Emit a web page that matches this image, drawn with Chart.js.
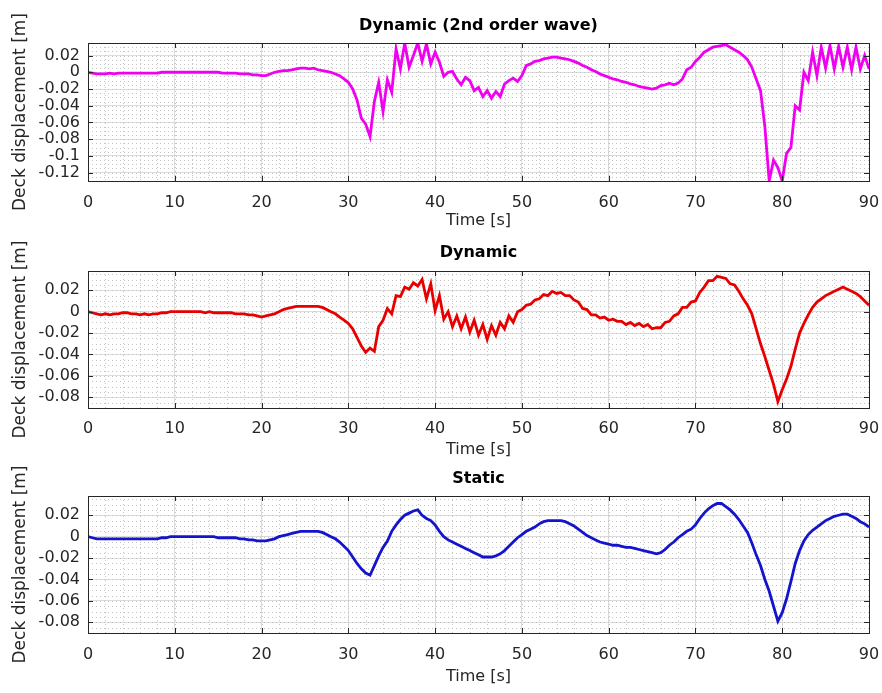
<!DOCTYPE html>
<html>
<head>
<meta charset="utf-8">
<script src="https://cdn.jsdelivr.net/npm/chart.js@4.4.0/dist/chart.umd.min.js"></script>
<style>
  html, body { margin: 0; padding: 0; background: #fff; }
  #quadro { position: relative; width: 882px; height: 693px; overflow: hidden; }
  canvas { position: absolute; left: 0; }
</style>
</head>
<body>
<div id="quadro">
  <canvas id="g1" width="882" height="231" style="top:0px"></canvas>
  <canvas id="g2" width="882" height="231" style="top:231px"></canvas>
  <canvas id="g3" width="882" height="231" style="top:462px"></canvas>
</div>
<script>
// deslocamento do tabuleiro [m], amostrado a cada 0.5 s de 0 a 90 s
const passoTempo = 0.5;

const dinamico2aOrdem = [
  0, -0.001, -0.002, -0.002, -0.002, -0.001, -0.002, -0.001, -0.001, -0.001,
  -0.001, -0.001, -0.001, -0.001, -0.001, -0.001, -0.001, 0, 0, 0,
  0, 0, 0, 0, 0, 0, 0, 0, 0, 0,
  0, -0.001, -0.001, -0.001, -0.001, -0.002, -0.002, -0.002, -0.003, -0.003,
  -0.004, -0.004, -0.002, 0, 0.001, 0.002, 0.002, 0.003, 0.004, 0.005,
  0.005, 0.004, 0.005, 0.003, 0.002, 0.001, 0, -0.002, -0.004, -0.008,
  -0.012, -0.02, -0.033, -0.055, -0.062, -0.077, -0.035, -0.012, -0.047, -0.009,
  -0.024, 0.028, 0.004, 0.035, 0.006, 0.02, 0.035, 0.013, 0.034, 0.01,
  0.024, 0.012, -0.005, 0.0, 0.001, -0.008, -0.015, -0.006, -0.01, -0.022,
  -0.018, -0.029, -0.022, -0.031, -0.023, -0.029, -0.014, -0.01, -0.007, -0.011,
  -0.004, 0.008, 0.01, 0.013, 0.014, 0.016, 0.017, 0.018, 0.018, 0.017,
  0.016, 0.015, 0.013, 0.011, 0.008, 0.006, 0.003, 0.001, -0.002, -0.004,
  -0.006, -0.008, -0.009, -0.011, -0.012, -0.014, -0.015, -0.017, -0.018, -0.019,
  -0.02, -0.019, -0.016, -0.015, -0.013, -0.015, -0.013, -0.008, 0.003, 0.006,
  0.013, 0.018, 0.024, 0.027, 0.03, 0.031, 0.032, 0.033, 0.03, 0.027,
  0.024, 0.02, 0.015, 0.006, -0.008, -0.022, -0.065, -0.13, -0.105, -0.114,
  -0.13, -0.097, -0.09, -0.04, -0.045, 0.0, -0.01, 0.024, -0.004, 0.03,
  0.005, 0.032, 0.004, 0.031, 0.006, 0.03, 0.003, 0.03, 0.004, 0.02,
  0.004
];

const dinamico = [
  0, -0.001, -0.002, -0.003, -0.002, -0.003, -0.002, -0.002, -0.001, -0.001,
  -0.002, -0.002, -0.003, -0.002, -0.003, -0.002, -0.002, -0.001, -0.001, 0,
  0, 0, 0, 0, 0, 0, 0, -0.001, 0, -0.001,
  -0.001, -0.001, -0.001, -0.001, -0.002, -0.002, -0.002, -0.003, -0.003, -0.004,
  -0.005, -0.004, -0.003, -0.002, 0, 0.002, 0.003, 0.004, 0.005, 0.005,
  0.005, 0.005, 0.005, 0.005, 0.004, 0.002, 0, -0.002, -0.005, -0.008,
  -0.011, -0.016, -0.024, -0.032, -0.038, -0.034, -0.037, -0.014, -0.008, 0.003,
  -0.002, 0.015, 0.014, 0.023, 0.021, 0.027, 0.024, 0.03, 0.012, 0.026,
  0.001, 0.015, -0.007, 0.0, -0.014, -0.004, -0.016, -0.005, -0.019, -0.008,
  -0.022, -0.012, -0.026, -0.013, -0.022, -0.01, -0.016, -0.004, -0.01, 0.0,
  0.002, 0.006, 0.007, 0.011, 0.012, 0.016, 0.015, 0.019, 0.017, 0.018,
  0.015, 0.015, 0.011, 0.009, 0.003, 0.002, -0.003, -0.003, -0.006, -0.005,
  -0.008, -0.007, -0.009, -0.009, -0.012, -0.01, -0.013, -0.011, -0.014, -0.012,
  -0.016, -0.015, -0.015, -0.01, -0.009, -0.004, -0.002, 0.004, 0.004, 0.009,
  0.01, 0.018, 0.023, 0.029, 0.029, 0.033, 0.032, 0.031, 0.026, 0.025,
  0.019, 0.012, 0.006, -0.002, -0.016, -0.03, -0.042, -0.055, -0.068, -0.084,
  -0.073, -0.063, -0.051, -0.035, -0.02, -0.011, -0.003, 0.004, 0.009, 0.012,
  0.015, 0.017, 0.019, 0.021, 0.023, 0.021, 0.019, 0.017, 0.014, 0.01,
  0.006
];

const estatico = [
  0, -0.001, -0.002, -0.002, -0.002, -0.002, -0.002, -0.002, -0.002, -0.002,
  -0.002, -0.002, -0.002, -0.002, -0.002, -0.002, -0.002, -0.001, -0.001, 0,
  0, 0, 0, 0, 0, 0, 0, 0, 0, 0,
  -0.001, -0.001, -0.001, -0.001, -0.001, -0.002, -0.002, -0.003, -0.003, -0.004,
  -0.004, -0.004, -0.003, -0.002, 0, 0.001, 0.002, 0.003, 0.004, 0.005,
  0.005, 0.005, 0.005, 0.005, 0.004, 0.002, 0, -0.002, -0.005, -0.009,
  -0.013, -0.019, -0.025, -0.03, -0.034, -0.036, -0.027, -0.018, -0.01, -0.004,
  0.005, 0.011, 0.016, 0.02, 0.022, 0.024, 0.025, 0.02, 0.017, 0.015,
  0.011, 0.005, 0.0, -0.003, -0.005, -0.007, -0.009, -0.011, -0.013, -0.015,
  -0.017, -0.019, -0.019, -0.019, -0.018, -0.016, -0.013, -0.009, -0.005, -0.001,
  0.002, 0.005, 0.007, 0.009, 0.012, 0.014, 0.015, 0.015, 0.015, 0.015,
  0.014, 0.012, 0.01, 0.007, 0.004, 0.001, -0.001, -0.003, -0.005, -0.006,
  -0.007, -0.008, -0.008, -0.009, -0.01, -0.01, -0.011, -0.012, -0.013, -0.014,
  -0.015, -0.016, -0.015, -0.012, -0.008, -0.005, -0.001, 0.002, 0.005, 0.007,
  0.011, 0.017, 0.022, 0.026, 0.029, 0.031, 0.031, 0.028, 0.025, 0.021,
  0.016, 0.01, 0.004, -0.006, -0.017, -0.027, -0.04, -0.051, -0.065, -0.079,
  -0.071, -0.058, -0.042, -0.025, -0.013, -0.004, 0.002, 0.006, 0.009, 0.012,
  0.015, 0.017, 0.019, 0.02, 0.021, 0.021, 0.019, 0.017, 0.014, 0.012,
  0.009
];

const tempo = estatico.map((_, i) => i * passoTempo);

const ticksX = [0, 10, 20, 30, 40, 50, 60, 70, 80, 90];
const ticksY1 = [-0.12, -0.1, -0.08, -0.06, -0.04, -0.02, 0, 0.02];
const ticksY23 = [-0.08, -0.06, -0.04, -0.02, 0, 0.02];

const fonte = 'DejaVu Sans';
const cinza = '#262626';

// caixa, marcas internas e grade secundária pontilhada (estilo MATLAB)
const moldura = {
  id: 'moldura',
  beforeDatasetsDraw(chart) {
    const { ctx, chartArea: a, scales: { x, y } } = chart;
    ctx.save();
    ctx.strokeStyle = '#c4c4c4';
    ctx.lineWidth = 1;
    ctx.setLineDash([1, 3]);
    ctx.beginPath();
    const passoX = (x.ticks[1].value - x.ticks[0].value) / 5;
    for (let v = x.min; v <= x.max + 1e-9; v += passoX) {
      const px = Math.round(x.getPixelForValue(v)) + 0.5;
      ctx.moveTo(px, a.top); ctx.lineTo(px, a.bottom);
    }
    const passoY = (y.ticks[1].value - y.ticks[0].value) / 4;
    for (let v = Math.ceil(y.min / passoY) * passoY; v <= y.max + 1e-9; v += passoY) {
      const py = Math.round(y.getPixelForValue(v)) + 0.5;
      ctx.moveTo(a.left, py); ctx.lineTo(a.right, py);
    }
    ctx.stroke();
    ctx.restore();
  },
  afterDatasetsDraw(chart) {
    const { ctx, chartArea: a, scales: { x, y } } = chart;
    ctx.save();
    ctx.strokeStyle = cinza;
    ctx.lineWidth = 1;
    ctx.beginPath();
    x.ticks.forEach(t => {
      const px = Math.round(x.getPixelForValue(t.value)) + 0.5;
      ctx.moveTo(px, a.top); ctx.lineTo(px, a.top + 5);
      ctx.moveTo(px, a.bottom); ctx.lineTo(px, a.bottom - 5);
    });
    y.ticks.forEach(t => {
      const py = Math.round(y.getPixelForValue(t.value)) + 0.5;
      ctx.moveTo(a.left, py); ctx.lineTo(a.left + 5, py);
      ctx.moveTo(a.right, py); ctx.lineTo(a.right - 5, py);
    });
    ctx.stroke();
    ctx.strokeRect(Math.round(a.left) + 0.5, Math.round(a.top) + 0.5,
      Math.round(a.right - a.left), Math.round(a.bottom - a.top));
    ctx.restore();
  }
};

function criarPainel(id, titulo, valores, cor, yMin, yMax, ticksY, lay) {
  return new Chart(document.getElementById(id), {
    type: 'line',
    data: {
      datasets: [{
        data: valores.map((v, i) => ({ x: tempo[i], y: v })),
        borderColor: cor,
        borderWidth: 2.8,
        pointRadius: 0,
        tension: 0
      }]
    },
    options: {
      responsive: false,
      animation: false,
      devicePixelRatio: 1,
      layout: { padding: { left: 0, right: 13, top: 0, bottom: 0 } },
      plugins: {
        legend: { display: false },
        tooltip: { enabled: false },
        title: {
          display: true,
          text: titulo,
          fullSize: false,
          color: '#000',
          font: { family: fonte, size: 16, weight: 'bold' },
          padding: { top: lay.tituloCima, bottom: lay.tituloBaixo }
        }
      },
      scales: {
        x: {
          type: 'linear',
          min: 0,
          max: 90,
          afterBuildTicks: s => { s.ticks = ticksX.map(v => ({ value: v })); },
          afterFit: s => { s.height = lay.alturaX; },
          ticks: { autoSkip: false, maxRotation: 0, padding: 0, color: cinza, font: { family: fonte, size: 16 } },
          // marca invisível: só afasta os rótulos do eixo
          grid: { color: '#dcdcdc', drawTicks: true, tickLength: lay.padX, tickColor: 'rgba(0,0,0,0)' },
          border: { display: false },
          title: {
            display: true,
            text: 'Time [s]',
            color: cinza,
            font: { family: fonte, size: 16 },
            padding: { top: 0, bottom: lay.tituloX }
          }
        },
        y: {
          min: yMin,
          max: yMax,
          afterBuildTicks: s => { s.ticks = ticksY.map(v => ({ value: v })); },
          afterFit: s => { s.width = 88; },
          ticks: {
            autoSkip: false,
            padding: 8,
            color: cinza,
            font: { family: fonte, size: 16 },
            callback: v => String(+v.toFixed(3))
          },
          grid: { color: '#dcdcdc', drawTicks: false },
          border: { display: false },
          title: {
            display: true,
            text: 'Deck displacement [m]',
            color: cinza,
            font: { family: fonte, size: 17 },
            padding: { top: 10, bottom: 0 }
          }
        }
      }
    },
    plugins: [moldura]
  });
}

criarPainel('g1', 'Dynamic (2nd order wave)', dinamico2aOrdem, '#f000f0', -0.13, 0.035, ticksY1,
  { tituloCima: 16.4, tituloBaixo: 7.4, alturaX: 50, padX: 12, tituloX: 0.4 });
criarPainel('g2', 'Dynamic', dinamico, '#e80000', -0.09, 0.038, ticksY23,
  { tituloCima: 12.4, tituloBaixo: 8.4, alturaX: 54, padX: 11, tituloX: 2.1 });
criarPainel('g3', 'Static', estatico, '#1414cc', -0.09, 0.038, ticksY23,
  { tituloCima: 6.9, tituloBaixo: 7.9, alturaX: 60, padX: 12, tituloX: 6.4 });
</script>
</body>
</html>
